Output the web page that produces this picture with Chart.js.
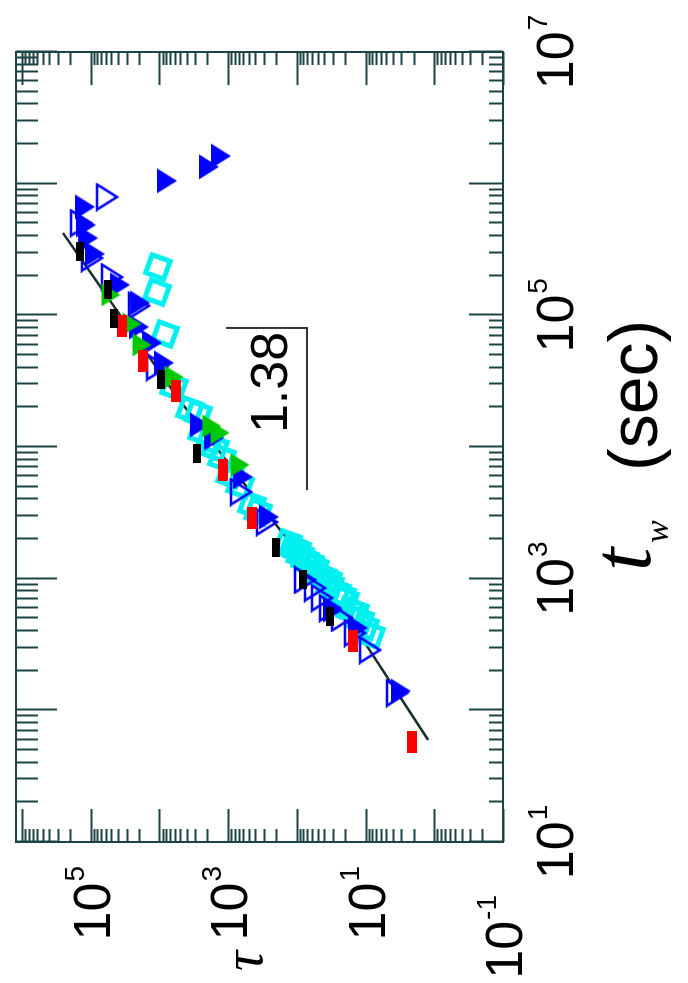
<!DOCTYPE html>
<html>
<head>
<meta charset="utf-8">
<script src="https://cdn.jsdelivr.net/npm/chart.js@4.4.1/dist/chart.umd.min.js"></script>
<style>
  html, body { margin: 0; padding: 0; background: #fff; overflow: hidden; }
  /* the figure is printed on its side: draw it upright, then turn it a quarter turn */
  #wrap { position: absolute; left: 0; top: 0; width: 983px; height: 688px;
          transform-origin: 0 0; transform: translate(0, 983px) rotate(-90deg); }
</style>
</head>
<body>
<div id="wrap"><canvas id="tauChart" width="983" height="688"></canvas></div>
<script>
// waiting time t_w (sec) and relaxation time tau
const blackTw  = [3.03e5, 1.56e5, 9.38e4, 3.23e4, 9.0e3, 1.71e3, 994, 520];
const blackTau = [1.43e5, 5.6e4, 4.58e4, 9.48e3, 2.84e3, 201, 81.3, 32.9];

const redTw  = [8.3e4, 4.5e4, 2.66e4, 6.68e3, 2.89e3, 336, 57.4];
const redTau = [3.5e4, 1.73e4, 5.73e3, 1.19e3, 450, 15.2, 2.11];

const greenTw  = [1.43e5, 8.59e4, 5.96e4, 3.4e4, 1.44e4, 1.28e4, 7.3e3];
const greenTau = [5.06e4, 2.5e4, 1.79e4, 6.14e3, 1.72e3, 1.31e3, 671];

const openBlueTw  = [7.92e5, 5.02e5, 2.72e5, 1.95e5, 1.18e5, 6.5e4, 4.05e4, 4.55e3, 2.69e3, 977, 849, 713, 598, 503, 386, 287, 135];
const openBlueTau = [5.78e4, 1.38e5, 9.57e4, 4.9e4, 1.98e4, 1.62e4, 1.08e4, 650, 272, 76.1, 54.4, 43.0, 32.9, 22.0, 14.3, 8.61, 3.49];

const blueTw  = [1.05e6, 1.34e6, 1.62e6, 6.65e5, 4.85e5, 3.86e5, 2.92e5, 1.7e5, 1.24e5, 8.15e4, 6.17e4, 4.35e4, 1.47e4, 1.17e4, 5.92e3, 2.94e3, 578, 422, 140];
const blueTau = [7.75e3, 1.9e3, 1.27e3, 1.21e5, 1.17e5, 1.09e5, 8.65e4, 3.74e4, 1.91e4, 1.98e4, 1.28e4, 8.57e3, 2.57e3, 1.6e3, 607, 254, 29.8, 12.9, 3.05];

const cyanTw  = [2.33e5, 1.5e5, 7.21e4, 2.86e4, 1.91e4, 1.78e4, 1.3e4, 1.13e4, 9.82e3, 8.24e3, 6.12e3, 5.14e3, 3.62e3, 3.21e3,
                 1.87e3, 1.71e3, 1.65e3, 1.51e3, 1.39e3, 1.31e3, 1.21e3, 1.07e3, 1.03e3, 977, 895, 792, 738, 689, 578, 558, 485, 430, 373];
const cyanTau = [1.05e4, 1.08e4, 8.28e3, 6.14e3, 3.59e3, 2.74e3, 2.4e3, 1.84e3, 1.55e3, 1.23e3, 939, 671, 450, 367,
                 134, 114, 99.5, 89.9, 76.1, 64.4, 54.4, 49.2, 41.6, 35.2, 32.9, 26.0, 22.0, 19.9, 16.8, 14.3, 12.0, 10.2, 8.34];

// power-law fit drawn through the data
const fitTw  = [59.6, 485, 2.4e4, 4.22e5];
const fitTau = [1.23, 16.8, 5.55e3, 2.53e5];

// slope guide and its label
const guideTw  = [4710, 8.02e4, 8.02e4];
const guideTau = [71.1, 71.1, 1074];
const slopeText = '1.38';
const slopeAt = [2.8e4, 140];

// axis ticks that carry a label
const twLabels  = [10, 1e3, 1e5, 1e7];
const twExp     = ['1', '3', '5', '7'];
const tauLabels = [0.1, 10, 1e3, 1e5];
const tauExp    = ['-1', '1', '3', '5'];

const inkColor = '#1d4444';

function pts(xs, ys) {
  return xs.map((x, i) => ({ x: x, y: ys[i] }));
}

// small canvases used as point styles
function marker(w, h, draw) {
  const c = document.createElement('canvas');
  c.width = w; c.height = h;
  draw(c.getContext('2d'), w, h);
  return c;
}
function triDown(color, filled, w, h) {
  return marker(w + 4, h + 4, (g) => {
    g.beginPath();
    g.moveTo(2, 2); g.lineTo(w + 2, 2); g.lineTo(w / 2 + 2, h + 2); g.closePath();
    if (filled) { g.fillStyle = color; g.fill(); }
    else { g.strokeStyle = color; g.lineWidth = 2.5; g.stroke(); }
  });
}
function bar(color, w, h) {
  return marker(w, h, (g) => { g.fillStyle = color; g.fillRect(0, 0, w, h); });
}
function tiltedSquare(color) {
  return marker(34, 34, (g) => {
    g.translate(17, 17); g.rotate(20 * Math.PI / 180);
    g.strokeStyle = color; g.lineWidth = 5;
    g.strokeRect(-9.5, -9.5, 19, 19);
  });
}

function logTicks(min, max) {
  const out = [];
  for (let k = Math.floor(Math.log10(min)); k <= Math.ceil(Math.log10(max)); k++) {
    for (let m = 1; m <= 9; m++) {
      const v = m * Math.pow(10, k);
      if (v >= min * 0.999 && v <= max * 1.001) out.push({ v: v, major: m === 1 });
    }
  }
  return out;
}

function drawPow(ctx, exp, x0, base) {
  ctx.font = '52px "Liberation Sans", Arial, sans-serif';
  ctx.fillText('10', x0, base);
  const w = ctx.measureText('10').width;
  ctx.font = '28px "Liberation Sans", Arial, sans-serif';
  ctx.fillText(exp, x0 + w + 1, base - 26);
}
function powWidth(ctx, exp) {
  ctx.font = '52px "Liberation Sans", Arial, sans-serif';
  const w = ctx.measureText('10').width;
  ctx.font = '28px "Liberation Sans", Arial, sans-serif';
  return w + 1 + ctx.measureText(exp).width;
}

const frameAndText = {
  id: 'frameAndText',
  beforeDatasetsDraw(chart) {
    const { ctx, chartArea: a, scales: { x, y } } = chart;
    ctx.save();
    ctx.strokeStyle = inkColor;
    ctx.lineWidth = 2;
    ctx.strokeRect(a.left, a.top, a.right - a.left, a.bottom - a.top);
    ctx.beginPath();
    logTicks(x.min, x.max).forEach(t => {
      const px = Math.round(x.getPixelForValue(t.v)) + 0.5;
      ctx.moveTo(px, a.top); ctx.lineTo(px, a.top + (t.major ? 41 : 22));
      ctx.moveTo(px, a.bottom); ctx.lineTo(px, a.bottom - (t.major ? 34 : 14));
    });
    logTicks(y.min, y.max).forEach(t => {
      const py = Math.round(y.getPixelForValue(t.v)) + 0.5;
      ctx.moveTo(a.left, py); ctx.lineTo(a.left + (t.major ? 33 : 13), py);
      ctx.moveTo(a.right, py); ctx.lineTo(a.right - (t.major ? 33 : 13), py);
    });
    ctx.stroke();
    ctx.restore();
  },
  afterDraw(chart) {
    const { ctx, chartArea: a, scales: { x, y } } = chart;
    ctx.save();
    ctx.fillStyle = '#000';
    ctx.textBaseline = 'alphabetic';
    ctx.textAlign = 'left';
    twLabels.forEach((v, i) => {
      const w = powWidth(ctx, twExp[i]);
      drawPow(ctx, twExp[i], x.getPixelForValue(v) - w / 2, a.bottom + 70);
    });
    tauLabels.forEach((v, i) => {
      const w = powWidth(ctx, tauExp[i]);
      // the lowest label sits further out, clear of the t_w labels
      const right = v < 1 ? 88 : 117;
      drawPow(ctx, tauExp[i], right - w, y.getPixelForValue(v) + 19);
    });

    // axis titles
    ctx.font = 'italic 84px "Liberation Serif", "Times New Roman", serif';
    ctx.fillText('t', 412, 650);
    ctx.font = 'italic 34px "Liberation Serif", "Times New Roman", serif';
    ctx.fillText('w', 440, 668);
    ctx.font = '68px "Liberation Sans", Arial, sans-serif';
    ctx.fillText('(sec)', 512, 657);
    ctx.font = 'italic 56px "Liberation Serif", "Times New Roman", serif';
    ctx.fillText('\u03c4', 12, 262);

    // slope value next to the guide
    ctx.font = '52px "Liberation Sans", Arial, sans-serif';
    ctx.fillText(slopeText, x.getPixelForValue(slopeAt[0]) - 45, y.getPixelForValue(slopeAt[1]));
    ctx.restore();
  }
};

const ctx = document.getElementById('tauChart').getContext('2d');
const tauChart = new Chart(ctx, {
  type: 'scatter',
  data: {
    datasets: [
      { data: pts(blackTw, blackTau), pointStyle: bar('#000000', 19, 8), pointRadius: 10 },
      { data: pts(redTw, redTau), pointStyle: bar('#ff0000', 22, 10), pointRadius: 10 },
      { data: pts(greenTw, greenTau), pointStyle: triDown('#00c800', true, 23, 19), pointRadius: 10 },
      { data: pts(openBlueTw, openBlueTau), pointStyle: triDown('#0000ff', false, 25, 20), pointRadius: 10 },
      { data: pts(blueTw, blueTau), pointStyle: triDown('#0000ff', true, 25, 20), pointRadius: 10 },
      { data: pts(cyanTw, cyanTau), pointStyle: tiltedSquare('#00f0f0'), pointRadius: 10 },
      { data: pts(guideTw, guideTau), showLine: true, borderColor: '#333333', borderWidth: 2, pointRadius: 0 },
      { data: pts(fitTw, fitTau), showLine: true, borderColor: '#1a2e2e', borderWidth: 2.5, pointRadius: 0 }
    ]
  },
  options: {
    responsive: false,
    animation: false,
    layout: { padding: { left: 141, right: 52, top: 16, bottom: 185 } },
    plugins: { legend: { display: false }, tooltip: { enabled: false } },
    scales: {
      x: { type: 'logarithmic', min: 10, max: 1e7, display: false },
      y: { type: 'logarithmic', min: 0.1, max: 1.22e6, display: false }
    }
  },
  plugins: [frameAndText]
});
</script>
</body>
</html>
